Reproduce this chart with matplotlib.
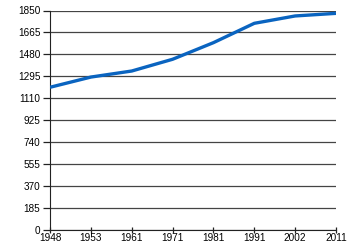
import matplotlib
matplotlib.use("Agg")
import matplotlib.pyplot as plt

years = ["1948", "1953", "1961", "1971", "1981", "1991", "2002", "2011"]
population = [1203, 1289, 1340, 1439, 1579, 1742, 1804, 1826]
yticks = [0, 185, 370, 555, 740, 925, 1110, 1295, 1480, 1665, 1850]

plt.rcParams['font.family'] = ['Liberation Sans', 'DejaVu Sans']
fig = plt.figure(figsize=(3.5, 2.5), dpi=100)
ax = fig.add_axes([0.143, 0.08, 0.817, 0.878])
x = list(range(len(years)))
ax.plot(x, population, color="#0a64c0", lw=2.4, solid_capstyle="butt", zorder=3)
ax.set_xlim(0, len(years) - 1)
ax.set_ylim(0, 1850)
ax.set_xticks(x)
ax.set_xticklabels(years, fontsize=7.2)
ax.set_yticks(yticks)
ax.set_yticklabels([str(v) for v in yticks], fontsize=7.2)
ax.yaxis.grid(True, color="#444444", lw=0.9)
ax.set_axisbelow(True)
for s in ["top", "right"]:
    ax.spines[s].set_visible(False)
ax.spines["left"].set_color("#222222")
ax.spines["bottom"].set_color("#222222")
ax.tick_params(axis="x", direction="inout", length=5, width=0.9, pad=0, color="#222222")
ax.tick_params(axis="y", length=5, width=0.9, pad=2, color="#222222")
fig.savefig("out.png", dpi=100)
